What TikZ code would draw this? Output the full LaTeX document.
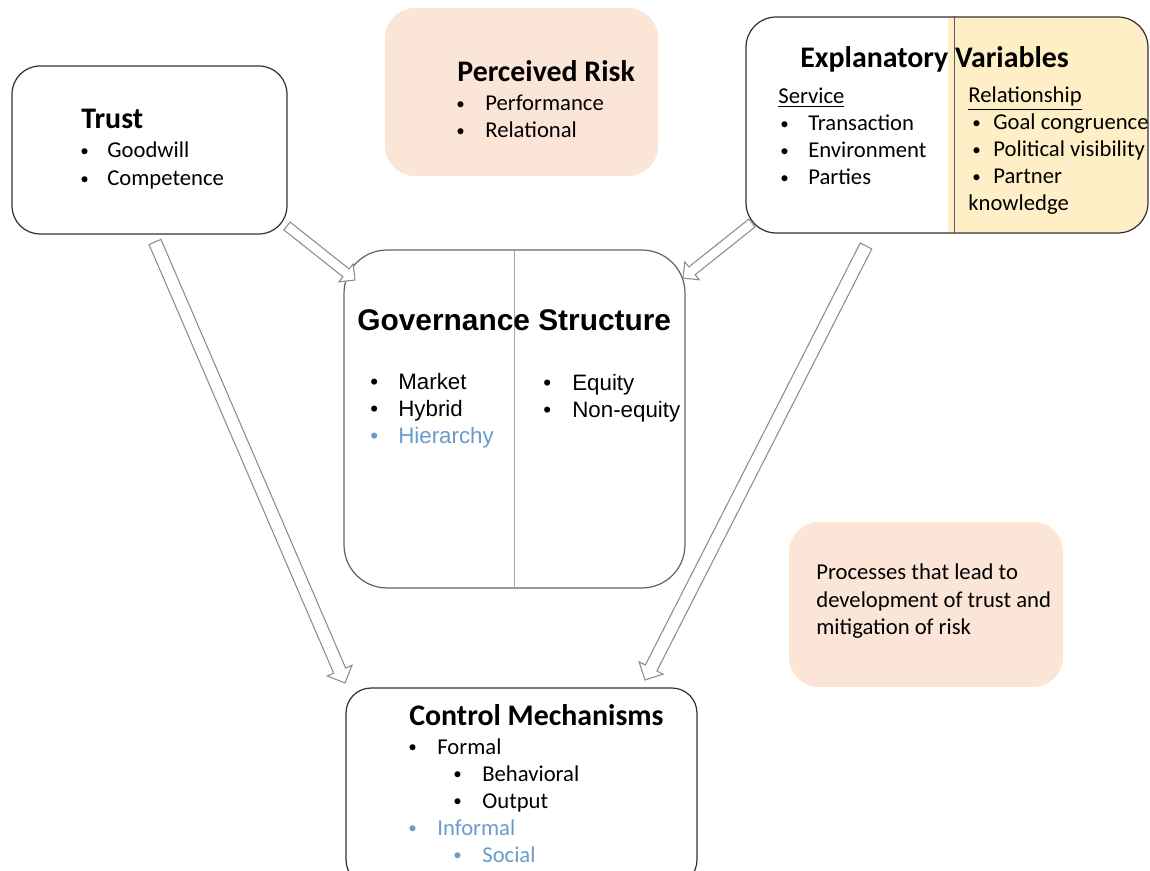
\documentclass[tikz,border=0pt]{standalone}
\usepackage{fontspec}
\usepackage{graphicx}
\setmainfont{Carlito}
\newfontfamily\arialfont{Liberation Sans}
\usetikzlibrary{calc}
\definecolor{peachFill}{HTML}{FBE5D6}
\definecolor{goldFill}{HTML}{FEEFC7}
\definecolor{softBlue}{HTML}{6B9BCB}
\definecolor{edgeGray}{HTML}{8C8C8C}
\tikzstyle{boxPlain} = [rectangle, rounded corners=0.56cm, draw=black!80, line width=0.7pt, fill=white, inner sep=0pt]
\tikzstyle{boxPeach} = [rectangle, rounded corners=0.6cm, fill=peachFill, inner sep=0pt]
\tikzstyle{titleText} = [anchor=base west, inner sep=0pt, font=\fontsize{17}{20}\selectfont\bfseries]
\tikzstyle{itemText} = [anchor=base west, inner sep=0pt, font=\fontsize{12.9}{15.5}\selectfont]
\tikzstyle{arialText} = [anchor=base west, inner sep=0pt, font=\arialfont\fontsize{12.7}{15}\selectfont]
\tikzstyle{hollow} = [draw=edgeGray, line width=0.6pt, fill=white, line join=miter]

\newcommand{\bul}[1][0.56cm]{\makebox[#1][l]{\raisebox{0.06em}{\scalebox{0.75}{\textbullet}}}}
\newcommand{\abul}[1][0.56cm]{\makebox[#1][l]{\textbullet}}
% #1 shaft half width, #2 head half width, #3 tail, #4 tip
\newcommand{\hollowArrow}[4]{%
  \coordinate (neck) at ($(#4)!#2!(#3)$);
  \draw[hollow] ($(#3)!#1!90:(#4)$) -- ($(neck)!#1!90:(#4)$) -- ($(neck)!#2!90:(#4)$) -- (#4)
    -- ($(neck)!#2!-90:(#4)$) -- ($(neck)!#1!-90:(#4)$) -- ($(#3)!#1!-90:(#4)$) -- cycle;
}

\begin{document}
\begin{tikzpicture}[x=0.02cm, y=-0.02cm]

\clip (0,0) rectangle (1150,871);

% boxes
\node (trust) [boxPlain, minimum width=5.5cm, minimum height=3.36cm] at (149.5,150) {};
\node (risk) [boxPeach, minimum width=5.46cm, minimum height=3.36cm] at (521.5,92) {};
\node (expl) [boxPlain, rounded corners=0.6cm, minimum width=8.04cm, minimum height=4.32cm,
  path picture={\fill[goldFill, sharp corners] ([xshift=4.04cm]path picture bounding box.north west) rectangle (path picture bounding box.south east);}] at (947,125) {};
\node (gov) [boxPlain, draw=black!60, rounded corners=0.86cm, minimum width=6.82cm, minimum height=6.76cm] at (514.5,419) {};
\node (control) [boxPlain, rounded corners=0.5cm, minimum width=7.02cm, minimum height=3.94cm] at (521.5,786.5) {};
\node (process) [boxPeach, minimum width=5.48cm, minimum height=3.3cm] at (926,604.5) {};

\draw[black!65, line width=0.7pt] ([xshift=4.18cm]expl.north west) -- ([xshift=4.18cm]expl.south west);
\draw[black!35, line width=0.8pt] ([xshift=3.42cm]gov.north west) -- ([xshift=3.42cm]gov.south west);

% trust
\node (trustTitle) [titleText] at (81,129) {Trust};
\foreach \txt [count=\k from 0] in {Goodwill, Competence}
  \node (trust\k) [itemText] at (80,158+28*\k) {\bul[0.54cm]\txt};

% perceived risk
\node (riskTitle) [titleText] at (457,82) {Perceived Risk};
\foreach \txt [count=\k from 0] in {Performance, Relational}
  \node (risk\k) [itemText] at (456,111+27*\k) {\bul[0.58cm]\txt};

% explanatory variables
\node (explTitle) [titleText] at (800,68) {Explanatory Variables};
\node (service) [itemText] at (778,104) {\underline{Service}};
\foreach \txt [count=\k from 0] in {Transaction, Environment, Parties}
  \node (service\k) [itemText] at (780,131+27*\k) {\bul[0.56cm]\txt};
\node (relation) [itemText] at (968,103) {\underline{Relationship}};
\foreach \txt [count=\k from 0] in {Goal congruence, Political visibility, Partner}
  \node (relation\k) [itemText] at (972,130+27*\k) {\bul[0.42cm]\txt};
\node (relation3) [itemText] at (968,211) {knowledge};

% governance structure
\node (govTitle) [arialText, font=\arialfont\fontsize{17}{20}\selectfont\bfseries] at (357,331) {Governance Structure};
\foreach \txt [count=\k from 0] in {Market, Hybrid}
  \node (govLeft\k) [arialText] at (370,390+27*\k) {\abul[0.56cm]\txt};
\node (govLeft2) [arialText, text=softBlue] at (370,444) {\abul[0.56cm]Hierarchy};
\foreach \txt [count=\k from 0] in {Equity, Non-equity}
  \node (govRight\k) [arialText] at (543,391+27*\k) {\abul[0.58cm]\txt};

% control mechanisms
\node (controlTitle) [titleText] at (409,725) {Control Mechanisms};
\node (formal) [itemText] at (408,754) {\bul[0.58cm]Formal};
\node (behav) [itemText] at (453,781) {\bul[0.58cm]Behavioral};
\node (output) [itemText] at (453,808) {\bul[0.58cm]Output};
\node (informal) [itemText, text=softBlue] at (408,835) {\bul[0.58cm]Informal};
\node (social) [itemText, text=softBlue] at (453,862) {\bul[0.58cm]Social};

% processes
\foreach \txt [count=\k from 0] in {Processes that lead to, development of trust and, mitigation of risk}
  \node (process\k) [itemText] at (816,580+27*\k) {\txt};

% arrows
\coordinate (trustOut) at (287,226);
\coordinate (govInL) at (355,280);
\coordinate (explOut) at (752,223);
\coordinate (govInR) at (683,278);
\coordinate (trustDown) at (155,242);
\coordinate (controlInL) at (345,683);
\coordinate (explDown) at (866,246);
\coordinate (controlInR) at (645,680);

\hollowArrow{0.1cm}{0.23cm}{trustOut}{govInL}
\hollowArrow{0.1cm}{0.23cm}{explOut}{govInR}
\hollowArrow{0.13cm}{0.27cm}{trustDown}{controlInL}
\hollowArrow{0.13cm}{0.27cm}{explDown}{controlInR}

\end{tikzpicture}
\end{document}
